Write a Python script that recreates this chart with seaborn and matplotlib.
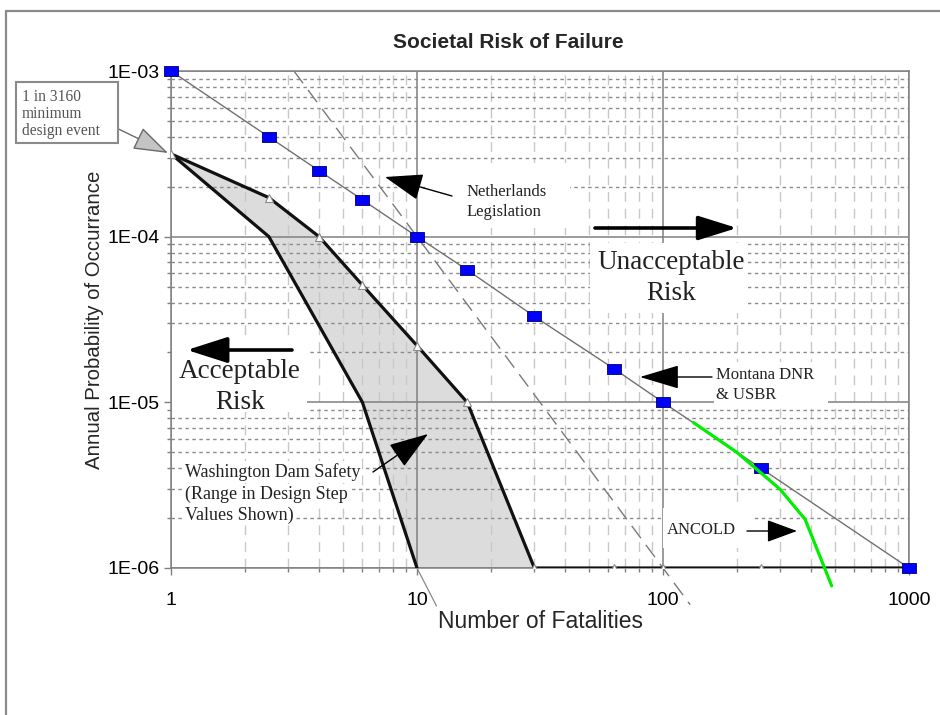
import matplotlib
matplotlib.use("Agg")
import matplotlib.pyplot as plt
import seaborn as sns
import pandas as pd
from matplotlib.ticker import FixedLocator, FixedFormatter, LogLocator, NullFormatter
from matplotlib.patches import Rectangle
from matplotlib.lines import Line2D

# ---------------- data ----------------
montana_n = [1, 2.5, 4, 6, 10, 16, 30, 63, 100, 250, 1000]
montana_p = [1e-3, 4e-4, 2.5e-4, 1.67e-4, 1e-4, 6.3e-5, 3.3e-5, 1.6e-5, 1e-5, 4e-6, 1e-6]

netherlands_n = [3.16, 10, 100, 129]
netherlands_p = [1e-3, 1e-4, 1e-6, 6e-7]

wash_upper_n = [1, 2.5, 4, 6, 10, 16, 30, 63, 100, 250, 1000]
wash_upper_p = [3.16e-4, 1.72e-4, 1e-4, 5.1e-5, 2.2e-5, 1e-5, 1e-6, 1e-6, 1e-6, 1e-6, 1e-6]

wash_lower_n = [1, 2.5, 6, 10]
wash_lower_p = [3.16e-4, 1e-4, 1e-5, 1e-6]

wash_ext_n = [10, 12]
wash_ext_p = [1e-6, 5.9e-7]

ancold_n = [133, 200, 299, 378, 485]
ancold_p = [7.55e-6, 4.98e-6, 2.99e-6, 1.97e-6, 7.8e-7]

x_ticks = [1, 10, 100, 1000]
x_tick_labels = ["1", "10", "100", "1000"]
y_ticks = [1e-6, 1e-5, 1e-4, 1e-3]
y_tick_labels = ["1E-06", "1E-05", "1E-04", "1E-03"]

title = "Societal Risk of Failure"
x_label = "Number of Fatalities"
y_label = "Annual Probability of Occurrance"

# ---------------- style ----------------
sns.set_theme(style="white")
plt.rcParams["font.family"] = ["Liberation Sans", "DejaVu Sans"]
SERIF = ["Liberation Serif", "DejaVu Serif"]

W, H = 940, 715
fig = plt.figure(figsize=(9.4, 7.15), dpi=100)
fig.patch.set_facecolor("white")
ax = fig.add_axes([171 / W, 1 - 568 / H, 738 / W, 497 / H])
ax.set_facecolor("white")
ax.set_xscale("log")
ax.set_yscale("log")
ax.set_xlim(1, 1000)
ax.set_ylim(1e-6, 1e-3)

# fill of Washington range
fill_n = wash_upper_n[:7] + wash_lower_n[::-1]
fill_p = wash_upper_p[:7] + wash_lower_p[::-1]
ax.fill(fill_n, fill_p, color="#dcdcdc", lw=0, zorder=0.3)

# grid
ax.set_axisbelow(True)
ax.xaxis.set_major_locator(FixedLocator(x_ticks))
ax.xaxis.set_major_formatter(FixedFormatter(x_tick_labels))
ax.yaxis.set_major_locator(FixedLocator(y_ticks))
ax.yaxis.set_major_formatter(FixedFormatter(y_tick_labels))
ax.xaxis.set_minor_locator(LogLocator(base=10, subs=range(2, 10)))
ax.yaxis.set_minor_locator(LogLocator(base=10, subs=range(2, 10)))
ax.xaxis.set_minor_formatter(NullFormatter())
ax.yaxis.set_minor_formatter(NullFormatter())
ax.grid(which="major", axis="both", color="#808080", lw=1.1, ls="-")
ax.xaxis.grid(which="minor", color="#c8c8c8", lw=1.0, ls=(0, (7, 5)))
ax.yaxis.grid(which="minor", color="#8c8c8c", lw=1.0, ls=(0, (2.5, 2.5)))

for s in ax.spines.values():
    s.set_color("#808080")
    s.set_linewidth(1.1)
    s.set_visible(True)

ax.tick_params(axis="both", which="major", direction="out", length=5, width=1,
               color="#808080", labelsize=14, labelcolor="black")
ax.tick_params(axis="both", which="minor", direction="out", length=3, width=1,
               color="#808080")
ax.tick_params(axis="x", which="major", pad=12)
ax.tick_params(axis="y", which="major", pad=3)
ax.tick_params(axis="both", which="both", bottom=True, left=True)


def fx(px):
    return (px - 171) / 738


def fy(py):
    return (568 - py) / 497


# white boxes occluding grid behind labels (pixel extents -> axes fraction)
def whitebox(x0, y0, x1, y1):
    ax.add_patch(Rectangle((fx(x0), fy(y1)), fx(x1) - fx(x0), fy(y0) - fy(y1),
                           transform=ax.transAxes, facecolor="white",
                           edgecolor="none", zorder=0.8))


whitebox(425, 163, 570, 228)     # Netherlands
whitebox(590, 243, 748, 313)     # Unacceptable
whitebox(171.5, 338, 307, 412)   # Acceptable
whitebox(714, 362, 828, 406)     # Montana
whitebox(663, 508, 753, 548)     # ANCOLD

# ---------------- lines ----------------
df_mont = pd.DataFrame({"n": montana_n, "p": montana_p})
df_neth = pd.DataFrame({"n": netherlands_n, "p": netherlands_p})
df_wu = pd.DataFrame({"n": wash_upper_n, "p": wash_upper_p})
df_wl = pd.DataFrame({"n": wash_lower_n, "p": wash_lower_p})
df_we = pd.DataFrame({"n": wash_ext_n, "p": wash_ext_p})
df_anc = pd.DataFrame({"n": ancold_n, "p": ancold_p})

sns.lineplot(data=df_neth, x="n", y="p", ax=ax, color="#7a7a7a", lw=1.0,
             estimator=None, sort=False, zorder=2, clip_on=False)
ax.lines[-1].set_dashes((11, 6))
sns.lineplot(data=df_we, x="n", y="p", ax=ax, color="#8a8a8a", lw=0.9,
             estimator=None, sort=False, zorder=2, clip_on=False)

sns.lineplot(data=df_wl, x="n", y="p", ax=ax, color="#111111", lw=2.3,
             estimator=None, sort=False, zorder=3)
sns.lineplot(data=df_wu, x="n", y="p", ax=ax, color="#111111", lw=2.3,
             estimator=None, sort=False, zorder=3, marker="^", markersize=6,
             markerfacecolor="white", markeredgecolor="#8a8a8a", markeredgewidth=0.8)

rect_marker = [(-1.45, -1), (1.45, -1), (1.45, 1), (-1.45, 1), (-1.45, -1)]
sns.lineplot(data=df_mont, x="n", y="p", ax=ax, color="#707070", lw=1.0,
             estimator=None, sort=False, zorder=4, marker=rect_marker, markersize=10,
             markerfacecolor="#0000ff", markeredgecolor="#000066", markeredgewidth=0.6,
             clip_on=False)

sns.lineplot(data=df_anc, x="n", y="p", ax=ax, color="#00ee00", lw=2.3,
             estimator=None, sort=False, zorder=4, clip_on=False)

ax.set_xlim(1, 1000)
ax.set_ylim(1e-6, 1e-3)
ax.set_xlabel("")
ax.set_ylabel("")

# ---------------- labels ----------------
fig.text(508 / W, 1 - 42 / H, title, ha="center", va="center",
         fontsize=15, fontweight="bold")
fig.text(540 / W, 1 - 622 / H, x_label, ha="center", va="center", fontsize=16.5)
fig.text(95 / W, 1 - 320 / H, y_label, ha="center", va="center", fontsize=14.7,
         rotation=90)

txt_col = "#222222"
T = ax.transAxes
ax.text(fx(467), fy(202), "Netherlands\nLegislation", ha="left", va="center",
        fontsize=12, family=SERIF, color=txt_col, linespacing=1.35, zorder=5, transform=T)
ax.text(fx(671), fy(278), "Unacceptable\nRisk", ha="center", va="center",
        fontsize=19.5, family=SERIF, color=txt_col, linespacing=1.32, zorder=5, transform=T)
ax.text(fx(240), fy(387), "Acceptable\nRisk", ha="center", va="center",
        fontsize=19.5, family=SERIF, color=txt_col, linespacing=1.32, zorder=5, transform=T)
ax.text(fx(716), fy(385), "Montana DNR\n& USBR", ha="left", va="center",
        fontsize=12, family=SERIF, color=txt_col, linespacing=1.35, zorder=5, transform=T)
ax.text(fx(667), fy(530), "ANCOLD", ha="left", va="center",
        fontsize=12, family=SERIF, color=txt_col, zorder=5, transform=T)
for line_txt, py in [("Washington Dam Safety", 472), ("(Range in Design Step", 494),
                     ("Values Shown)", 515)]:
    ax.text(fx(185), fy(py), line_txt, ha="left", va="center", fontsize=13,
            family=SERIF, color=txt_col, zorder=5, transform=T,
            bbox=dict(boxstyle="square,pad=0.1", fc="white", ec="none"))


# ---------------- arrows ----------------
def arrow(tail, tip, lw, hl, hw, color="black"):
    ax.annotate("", xy=(fx(tip[0]), fy(tip[1])), xycoords="axes fraction",
                xytext=(fx(tail[0]), fy(tail[1])), textcoords="axes fraction",
                arrowprops=dict(arrowstyle=f"-|>,head_length={hl},head_width={hw}",
                                lw=lw, fc=color, ec=color,
                                mutation_scale=10, shrinkA=0, shrinkB=0),
                annotation_clip=False, zorder=6)


arrow((595, 228), (737, 228), 2.6, 2.4, 0.75)     # unacceptable
arrow((292, 350), (187, 350), 2.6, 2.5, 0.8)      # acceptable
arrow((452, 196), (385, 177), 1.0, 2.4, 0.85)     # netherlands
arrow((712, 377), (640, 377), 1.0, 2.5, 0.75)     # montana
arrow((747, 531), (797, 531), 1.0, 1.9, 0.7)      # ancold
arrow((373, 472), (428, 434), 1.0, 2.5, 0.85)     # washington

# minimum design event box (figure pixels from top-left)
fig.add_artist(Rectangle((16 / W, 1 - 143 / H), 102 / W, 61 / H, transform=fig.transFigure,
                         facecolor="white", edgecolor="#8a8a8a", lw=1.5, zorder=5))
fig.text(22 / W, 1 - 89 / H, "1 in 3160\nminimum\ndesign event", ha="left", va="top",
         fontsize=11.2, family=SERIF, color="#555555", linespacing=1.1, zorder=6)
ax.annotate("", xy=(fx(168), fy(153)), xycoords="axes fraction",
            xytext=(118.5 / W, 1 - 129 / H), textcoords="figure fraction",
            arrowprops=dict(arrowstyle="-|>,head_length=2.2,head_width=0.75",
                            lw=1.0, fc="#c4c4c4", ec="#6a6a6a", mutation_scale=10,
                            shrinkA=0, shrinkB=0),
            annotation_clip=False, zorder=6)

# outer frame
fig.add_artist(Line2D([6 / W, 1.0], [1 - 11 / H, 1 - 11 / H], transform=fig.transFigure,
                      color="#8a8a8a", lw=1.6))
fig.add_artist(Line2D([6 / W, 6 / W], [0.0, 1 - 11 / H], transform=fig.transFigure,
                      color="#8a8a8a", lw=1.6))

fig.savefig("out.png", dpi=100, facecolor="white")
